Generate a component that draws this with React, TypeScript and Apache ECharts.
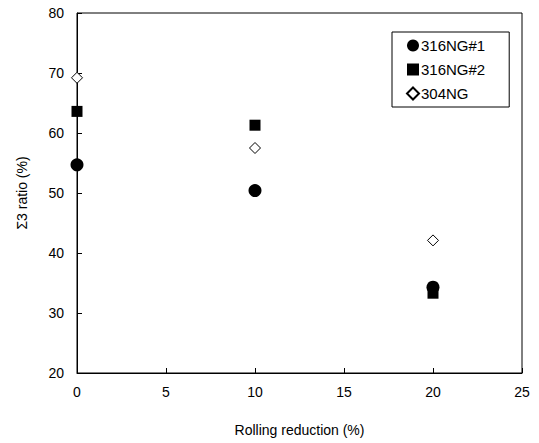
import React, { useEffect, useRef } from "react";
import * as echarts from "echarts";

const xValues = [0, 10, 20];
const s316NG1 = [54.7, 50.4, 34.3];
const s316NG2 = [63.6, 61.3, 33.3];
const s304NG = [69.2, 57.5, 42.1];
const seriesNames = ["316NG#1", "316NG#2", "304NG"];

const FONT = "'Liberation Sans', Arial, sans-serif";

export default function App() {
  const ref = useRef<HTMLDivElement>(null);
  useEffect(() => {
    if (!ref.current) return;
    const chart = echarts.init(ref.current, undefined, { renderer: "svg" });
    const pairs = (ys: number[]) => xValues.map((x, i) => [x, ys[i]]);
    chart.setOption({
      animation: false,
      backgroundColor: "#fff",
      textStyle: { fontFamily: FONT },
      grid: {
        left: 77,
        top: 13,
        right: 17,
        bottom: 70,
        show: true,
        borderColor: "#000",
        borderWidth: 1,
      },
      legend: {
        orient: "vertical",
        left: 392,
        top: 32,
        padding: [6, 24, 6, 14],
        itemGap: 9,
        itemWidth: 12,
        itemHeight: 12,
        borderColor: "#000",
        borderWidth: 1,
        textStyle: { fontFamily: FONT, fontSize: 15, color: "#000", padding: [0, 0, 0, -3] },
        data: seriesNames,
      },
      xAxis: {
        type: "value",
        min: 0,
        max: 25,
        interval: 5,
        name: "Rolling reduction (%)",
        nameLocation: "middle",
        nameGap: 50,
        nameTextStyle: { fontFamily: FONT, fontSize: 14, color: "#000" },
        axisLine: { show: true, lineStyle: { color: "#000", width: 1 } },
        axisTick: { show: true, inside: true, length: 5, lineStyle: { color: "#000" } },
        axisLabel: { fontFamily: FONT, fontSize: 14, color: "#000", margin: 12 },
        splitLine: { show: false },
      },
      yAxis: {
        type: "value",
        min: 20,
        max: 80,
        interval: 10,
        name: "Σ3 ratio (%)",
        nameLocation: "middle",
        nameGap: 48,
        nameTextStyle: { fontFamily: FONT, fontSize: 14, color: "#000" },
        axisLine: { show: true, lineStyle: { color: "#000", width: 1 } },
        axisTick: { show: true, inside: true, length: 5, lineStyle: { color: "#000" } },
        axisLabel: { fontFamily: FONT, fontSize: 14, color: "#000", margin: 13 },
        splitLine: { show: false },
      },
      series: [
        {
          name: seriesNames[0],
          type: "scatter",
          symbol: "circle",
          symbolSize: 13,
          itemStyle: { color: "#000", opacity: 1 },
          data: pairs(s316NG1),
          z: 3,
        },
        {
          name: seriesNames[1],
          type: "scatter",
          symbol: "rect",
          symbolSize: 11,
          itemStyle: { color: "#000", opacity: 1 },
          data: pairs(s316NG2),
          z: 4,
        },
        {
          name: seriesNames[2],
          type: "scatter",
          symbol: "diamond",
          symbolSize: 11,
          itemStyle: { color: "#fff", borderColor: "#000", borderWidth: 1, opacity: 1 },
          data: pairs(s304NG),
          z: 5,
        },
      ],
    });
    return () => chart.dispose();
  }, []);
  return (
    <div
      ref={ref}
      style={{ position: "absolute", left: 0, top: 0, width: 539, height: 443 }}
    />
  );
}
